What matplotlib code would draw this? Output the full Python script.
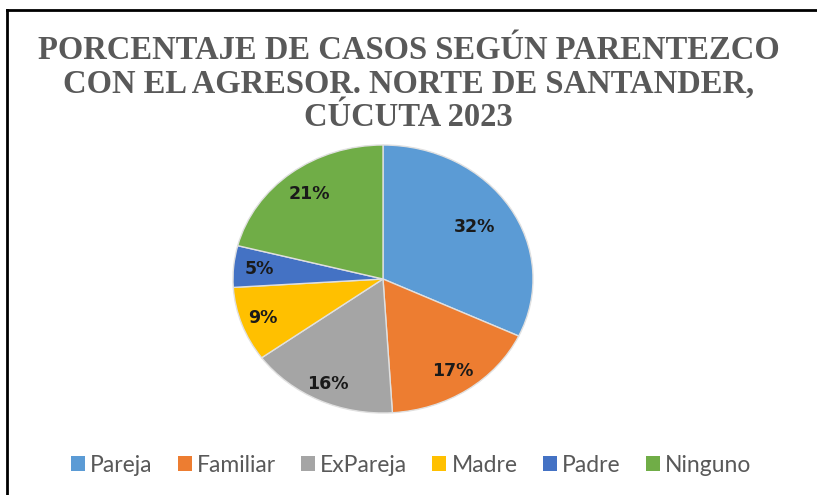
import numpy as np
import matplotlib
matplotlib.use("Agg")
import matplotlib.pyplot as plt
from matplotlib.lines import Line2D
from matplotlib.patches import Patch

categories = ["Pareja", "Familiar", "ExPareja", "Madre", "Padre", "Ninguno"]
values = [32, 17, 16, 9, 5, 21]
colors = ["#5B9BD5", "#ED7D31", "#A5A5A5", "#FFC000", "#4472C4", "#70AD47"]
title = "PORCENTAJE DE CASOS SEGÚN PARENTEZCO\nCON EL AGRESOR. NORTE DE SANTANDER,\nCÚCUTA 2023"
label_dist = [0.72, 0.83, 0.87, 0.85, 0.83, 0.80]

fig = plt.figure(figsize=(8.17, 4.95), dpi=100)
fig.patch.set_facecolor("white")

# frame lines (top and left)
fig.add_artist(Line2D([7/817, 817/817], [1-10/495, 1-10/495], color="black", lw=2, transform=fig.transFigure))
fig.add_artist(Line2D([7/817, 7/817], [1-10/495, 0], color="black", lw=2, transform=fig.transFigure))

ax = fig.add_axes([233/817, (495-413)/495, 300/817, 268/495])
wedges, _ = ax.pie(values, colors=colors, startangle=90, counterclock=False,
                   wedgeprops=dict(edgecolor="#e0e0e0", linewidth=1.0))
ax.set_aspect("auto")
ax.set_xlim(-1, 1)
ax.set_ylim(-1, 1)

total = sum(values)
for w, v, d in zip(wedges, values, label_dist):
    ang = np.deg2rad((w.theta1 + w.theta2) / 2)
    ax.text(d*np.cos(ang), d*np.sin(ang), f"{round(100*v/total)}%",
            ha="center", va="center", fontsize=12.5, fontweight="bold",
            color="#1a1a1a", family="DejaVu Sans")

fig.text(0.5, 1-84/495, title, ha="center", va="center", fontsize=23.5,
         fontweight="bold", family="Liberation Serif", color="#595959",
         linespacing=1.12)

handles = [Patch(facecolor=c, edgecolor="none") for c in colors]
fig.legend(handles, categories, loc="center", bbox_to_anchor=(411/817, 1-465/495),
           ncol=6, frameon=False, handlelength=0.61, handleheight=0.61,
           handletextpad=0.22, columnspacing=1.1,
           prop={"family": "Lato", "size": 16.5}, labelcolor="#595959")

fig.savefig("out.png", dpi=100, facecolor="white")
